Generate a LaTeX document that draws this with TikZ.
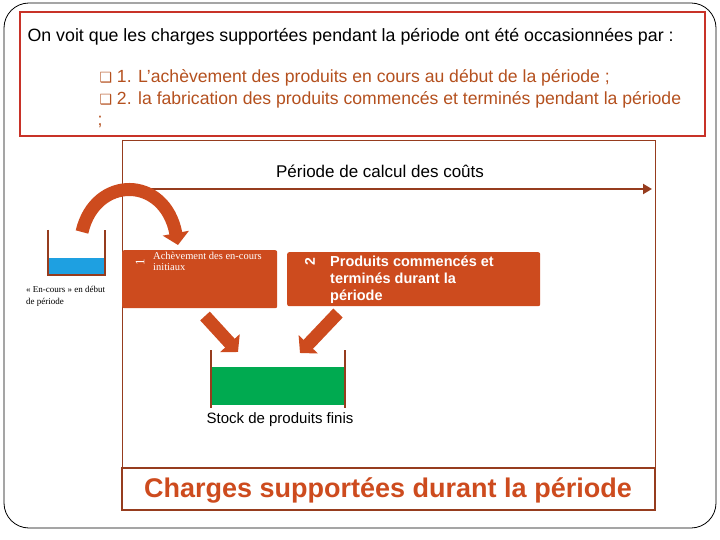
\documentclass[tikz,border=0pt]{standalone}
\usepackage{fontspec}
\setmainfont{Liberation Sans}
\newfontfamily\serifx{Liberation Serif}
\newfontfamily\dejavu{DejaVu Sans}
\usetikzlibrary{arrows.meta}
\definecolor{redb}{RGB}{200,50,40}
\definecolor{brn}{RGB}{150,60,30}
\definecolor{org}{RGB}{205,75,30}
\definecolor{txo}{RGB}{180,80,30}
\definecolor{blu}{RGB}{30,160,225}
\definecolor{grn}{RGB}{0,170,80}
\tikzset{
  box/.style={fill=org,rounded corners=2pt,draw=none},
  blk/.style={org,line width=13pt,-{Triangle[length=12pt,width=26pt]}},
  wall/.style={brn,line width=1.2pt},
}
\begin{document}
\begin{tikzpicture}[x=1pt,y=-1pt]
\useasboundingbox (0,0) rectangle (720,540);
\draw[rounded corners=25pt,line width=0.8pt] (4,3) rectangle (716,528);
\draw[redb,line width=1.5pt] (20,12) rectangle (705,136);
\node[anchor=west,font=\fontsize{17.8}{18}\selectfont] (t0) at (24,37) {On voit que les charges supportées pendant la période ont été occasionnées par :};
\node[anchor=west,text=txo,font=\fontsize{17.6}{18}\selectfont] (t1) at (96,78) {{\dejavu\fontsize{14}{14}\selectfont ❑} 1. L'achèvement des produits en cours au début de la période ;};
\node[anchor=west,text=txo,font=\fontsize{17.6}{18}\selectfont] (t2) at (96,100) {{\dejavu\fontsize{14}{14}\selectfont ❑} 2. la fabrication des produits commencés et terminés pendant la période};
\node[anchor=west,text=txo,font=\fontsize{17.6}{18}\selectfont] (t3) at (94,122) {;};
% inner frame
\draw[brn,line width=0.6pt] (122,140) -- (655,140) -- (655,470);
\draw[brn,line width=0.6pt] (122,140) -- (122,470);
\node[font=\fontsize{17}{18}\selectfont] (per) at (380,171) {Période de calcul des coûts};
\coordinate (pa) at (122,189);
\coordinate (pb) at (652,189);
\draw[brn,line width=2.5pt,{Triangle[length=9pt,width=10pt]}-{Triangle[length=9pt,width=10pt]}] (pa) -- (pb);
% beaker left
\fill[blu] (48,258) rectangle (105,275);
\draw[wall] (48,230) -- (48,275) -- (105,275) -- (105,230);
\node[anchor=north west,font=\serifx\fontsize{9}{12}\selectfont,align=left,inner sep=1pt] (enc) at (25,285) {« En-cours » en début\\de période};
% boxes
\node[box,anchor=north west,minimum width=155pt,minimum height=58pt] (b1) at (122,250) {};
\node[text=white,rotate=90,font=\serifx\fontsize{13}{13}\selectfont] (n1) at (140,262) {1};
\node[anchor=north west,text=white,align=left,inner sep=1pt,font=\serifx\fontsize{10.5}{11}\selectfont] (b1t) at (152,251) {Achèvement des en-cours\\initiaux};
\node[box,anchor=north west,minimum width=253pt,minimum height=54pt] (b2) at (287,252) {};
\node[text=white,rotate=90,font=\bfseries\fontsize{14}{14}\selectfont] (n2) at (310,262) {2};
\node[anchor=north west,text=white,align=left,inner sep=1pt,font=\bfseries\fontsize{14.5}{17}\selectfont] (b2t) at (329,255) {Produits commencés et\\terminés durant la\\période};
% curved arrow
\coordinate (c0) at (82,232);
\coordinate (c1) at (178,245);
\draw[blk] (c0) .. controls (95,175) and (165,175) .. (c1);
% stock beaker
\fill[grn] (212,367) rectangle (344,405);
\draw[wall] (211,350) -- (211,408);
\draw[wall] (345,350) -- (345,408);
\node[font=\fontsize{15}{16}\selectfont] (stk) at (280,420) {Stock de produits finis};
\coordinate (s1) at (238,352);
\coordinate (s2) at (300,353);
\draw[blk] (205,316) -- (s1);
\draw[blk] (338,313) -- (s2);
% bottom box
\draw[brn,line width=1.5pt,fill=white] (122,468) rectangle (655,510);
\node[text=org,font=\bfseries\fontsize{27}{28}\selectfont] (ch) at (388,490) {Charges supportées durant la période};
\end{tikzpicture}
\end{document}
